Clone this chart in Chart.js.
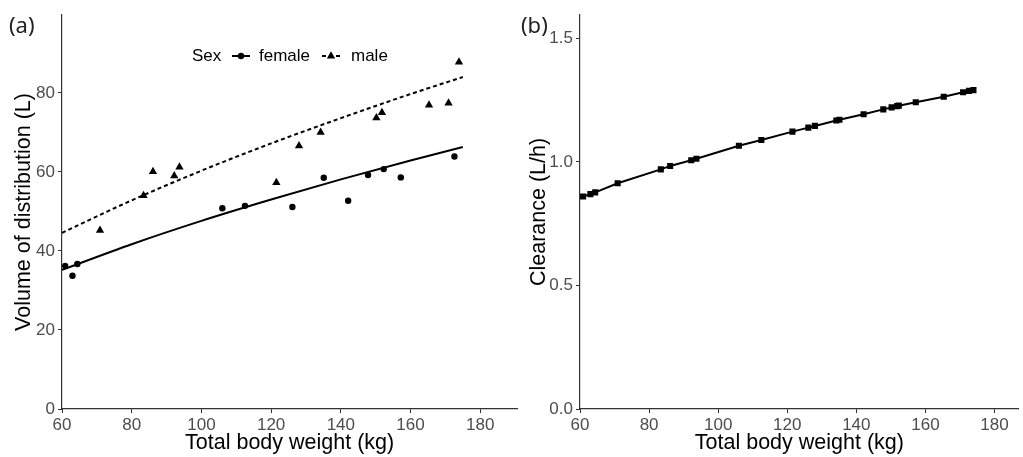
<!DOCTYPE html>
<html>
<head>
<meta charset="utf-8">
<script src="https://cdn.jsdelivr.net/npm/chart.js@4.4.1/dist/chart.umd.min.js"></script>
<style>
  html, body { margin: 0; padding: 0; background: #fff; }
  #wrap { position: relative; width: 1023px; height: 457px; overflow: hidden; }
  .panel { position: absolute; top: 0; height: 457px; }
  #pa { left: 0; width: 522px; }
  #pb { left: 522px; width: 501px; }
  .tag { position: absolute; top: 9px; font: 22px 'Noto Sans', sans-serif; color: #222; }
</style>
</head>
<body>
<div id="wrap">
  <div class="panel" id="pa"><canvas id="chartA"></canvas></div>
  <div class="panel" id="pb"><canvas id="chartB"></canvas></div>
  <div class="tag" style="left:9px">(a)</div>
  <div class="tag" style="left:521px">(b)</div>
</div>
<script>
const FONT = "'Liberation Sans', Arial, sans-serif";

// tick labels
const xTicks = [60, 80, 100, 120, 140, 160, 180];
const volTicks = [0, 20, 40, 60, 80];
const clTicks = [0, 0.5, 1.0, 1.5];

// observed volume of distribution, per sex
const femaleWt  = [60.9, 63.0, 64.4, 106.0, 112.5, 126.1, 135.1, 142.1, 147.8, 152.3, 157.2, 172.6];
const femaleVol = [36.2, 33.7, 36.7, 50.8, 51.4, 51.1, 58.5, 52.7, 59.2, 60.7, 58.6, 63.9];
const maleWt  = [70.9, 83.4, 86.1, 92.2, 93.7, 121.5, 128.0, 134.2, 150.2, 151.8, 165.3, 170.9, 173.9];
const maleVol = [45.2, 54.0, 60.1, 59.0, 61.2, 57.3, 66.6, 70.0, 73.7, 75.0, 76.9, 77.4, 87.8];

// model curves
const fitWt     = [60, 80, 100, 120, 140, 160, 175];
const femaleFit = [35.2, 41.7, 47.6, 53.0, 58.1, 62.9, 66.3];
const maleFit   = [44.6, 52.8, 60.3, 67.2, 73.6, 79.7, 84.0];

// clearance, panel (b)
const clWt  = [60.9, 63.0, 64.4, 70.9, 83.4, 86.1, 92.2, 93.7, 106.0, 112.5, 121.5, 126.1, 128.0,
               134.2, 135.1, 142.1, 147.8, 150.2, 151.8, 152.3, 157.2, 165.3, 170.9, 172.6, 173.9];
const clVal = [0.860, 0.870, 0.877, 0.914, 0.970, 0.984, 1.007, 1.013, 1.066, 1.089, 1.123, 1.139, 1.146,
               1.168, 1.171, 1.193, 1.213, 1.221, 1.226, 1.228, 1.242, 1.264, 1.282, 1.288, 1.291];

const pts = (xs, ys) => xs.map((x, i) => ({ x: x, y: ys[i] }));

function axis(min, max, ticks, title, size, isX, titlePad, fmt) {
  return {
    type: 'linear',
    min: min,
    max: max,
    afterBuildTicks: s => { s.ticks = ticks.map(v => ({ value: v })); },
    afterFit: s => { if (isX) s.height = size; else s.width = size; },
    border: { display: true, color: '#333', width: 1.2 },
    grid: { display: true, drawOnChartArea: false, drawTicks: true, tickLength: 4, tickColor: '#333' },
    ticks: {
      autoSkip: false, maxRotation: 0, color: '#4d4d4d', padding: isX ? 2 : 3,
      font: { family: FONT, size: 17 },
      callback: v => fmt ? fmt(v) : v
    },
    title: {
      display: true, text: title, color: '#000',
      font: { family: FONT, size: 21.5 },
      padding: isX ? { top: 0, bottom: titlePad } : { top: titlePad, bottom: 0 }
    }
  };
}

const sexLegend = {
  id: 'sexLegend',
  afterDraw(chart) {
    const c = chart.ctx;
    const y = 56;
    c.save();
    c.font = '17px ' + FONT;
    c.fillStyle = '#000';
    c.strokeStyle = '#000';
    c.textBaseline = 'middle';
    c.fillText('Sex', 192, y);
    c.lineWidth = 2;
    c.beginPath(); c.moveTo(232, y); c.lineTo(250, y); c.stroke();
    Chart.helpers.drawPoint(c, { pointStyle: 'circle', radius: 3.2, rotation: 0, borderWidth: 0 }, 241, y);
    c.fillText('female', 259, y);
    c.setLineDash([4, 3]);
    c.beginPath(); c.moveTo(322, y); c.lineTo(340, y); c.stroke();
    c.setLineDash([]);
    Chart.helpers.drawPoint(c, { pointStyle: 'triangle', radius: 4.8, rotation: 0, borderWidth: 0 }, 331, y);
    c.fillText('male', 351, y);
    c.restore();
  }
};

const common = {
  responsive: true,
  maintainAspectRatio: false,
  animation: false,
  plugins: { legend: { display: false }, tooltip: { enabled: false } }
};

new Chart(document.getElementById('chartA'), {
  type: 'scatter',
  data: {
    datasets: [
      { data: pts(fitWt, femaleFit), showLine: true, pointRadius: 0, borderColor: '#000',
        borderWidth: 2, cubicInterpolationMode: 'monotone' },
      { data: pts(fitWt, maleFit), showLine: true, pointRadius: 0, borderColor: '#000',
        borderWidth: 2, borderDash: [4, 3], cubicInterpolationMode: 'monotone' },
      { data: pts(femaleWt, femaleVol), pointStyle: 'circle', pointRadius: 3.2,
        backgroundColor: '#000', borderWidth: 0 },
      { data: pts(maleWt, maleVol), pointStyle: 'triangle', pointRadius: 4.8,
        backgroundColor: '#000', borderWidth: 0 }
    ]
  },
  options: Object.assign({}, common, {
    layout: { padding: { top: 15, right: 3, left: 0, bottom: 0 } },
    scales: {
      x: axis(60, 190.6, xTicks, 'Total body weight (kg)', 48, true, 1),
      y: axis(0, 99.7, volTicks, 'Volume of distribution (L)', 62, false, 11)
    }
  }),
  plugins: [sexLegend]
});

new Chart(document.getElementById('chartB'), {
  type: 'scatter',
  data: {
    datasets: [
      { data: pts(clWt, clVal), showLine: true, borderColor: '#000', borderWidth: 2,
        pointStyle: 'rect', pointRadius: 4.3, backgroundColor: '#000', pointBorderWidth: 0 }
    ]
  },
  options: Object.assign({}, common, {
    layout: { padding: { top: 15, right: 3, left: 0, bottom: 0 } },
    scales: {
      x: axis(60, 187, xTicks, 'Total body weight (kg)', 48, true, 1),
      y: axis(0, 1.595, clTicks, 'Clearance (L/h)', 58, false, 4, v => v.toFixed(1))
    }
  })
});
</script>
</body>
</html>
